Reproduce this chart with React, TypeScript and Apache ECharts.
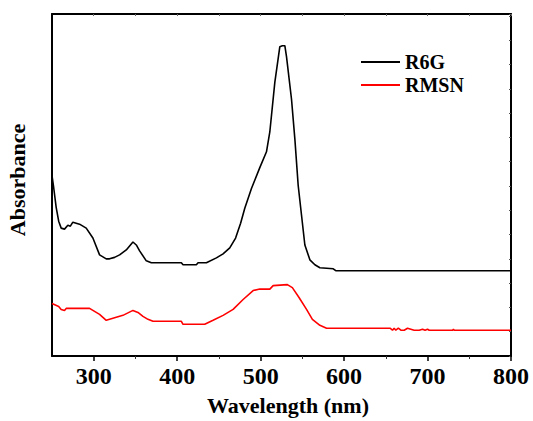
import React, { useEffect, useRef } from "react";
import * as echarts from "echarts";

const r6gWavelength = [250, 252, 255, 258, 261, 265, 269, 272, 275, 283, 291, 299, 307, 315, 319, 325, 331, 339, 347, 351, 355, 363, 369, 405, 407, 423, 425, 435, 447, 455, 463, 470, 476, 481, 489, 499, 507, 511, 517, 523, 526, 529, 531, 537, 541, 545, 549, 553, 559, 565, 571, 587, 590, 800];
const r6gAbsorbance = [1.82, 1.70, 1.50, 1.36, 1.29, 1.28, 1.32, 1.31, 1.35, 1.33, 1.29, 1.19, 1.02, 0.98, 0.98, 0.995, 1.02, 1.07, 1.15, 1.12, 1.06, 0.96, 0.94, 0.94, 0.92, 0.92, 0.94, 0.94, 0.99, 1.03, 1.09, 1.19, 1.34, 1.49, 1.69, 1.90, 2.06, 2.26, 2.76, 3.12, 3.13, 3.13, 3.02, 2.59, 2.19, 1.72, 1.42, 1.12, 0.97, 0.92, 0.89, 0.88, 0.86, 0.86];

const rmsnWavelength = [250, 258, 261, 265, 267, 295, 301, 307, 315, 323, 335, 347, 353, 359, 365, 371, 405, 407, 433, 443, 455, 467, 479, 491, 499, 511, 515, 532, 538, 546, 555, 562, 571, 579, 655, 658, 660, 662, 665, 668, 672, 676, 680, 684, 690, 694, 697, 700, 702, 730, 731, 732, 800];
const rmsnAbsorbance = [0.53, 0.50, 0.47, 0.46, 0.48, 0.48, 0.45, 0.42, 0.36, 0.38, 0.41, 0.46, 0.44, 0.40, 0.37, 0.35, 0.35, 0.32, 0.32, 0.36, 0.41, 0.47, 0.57, 0.66, 0.675, 0.675, 0.71, 0.72, 0.69, 0.59, 0.47, 0.37, 0.31, 0.28, 0.28, 0.26, 0.28, 0.26, 0.28, 0.26, 0.26, 0.28, 0.27, 0.26, 0.26, 0.27, 0.26, 0.27, 0.26, 0.26, 0.27, 0.26, 0.26];

const majorTicks = [300, 400, 500, 600, 700, 800];
const minorTicks = [350, 450, 550, 650, 750];
const seriesNames = ["R6G", "RMSN"];

const FONT = "'Liberation Serif', 'Times New Roman', serif";

export default function App() {
  const ref = useRef<HTMLDivElement>(null);
  useEffect(() => {
    if (!ref.current) return;
    const chart = echarts.init(ref.current, null, { renderer: "svg" });
    const toPairs = (xs: number[], ys: number[]) => xs.map((x, i) => [x, ys[i]]);
    chart.setOption({
      animation: false,
      backgroundColor: "#ffffff",
      grid: { left: 52, right: 22, top: 14, bottom: 62 },
      legend: {
        orient: "vertical",
        left: 356,
        top: 47,
        icon: "rect",
        itemWidth: 39,
        itemHeight: 2,
        itemGap: 3,
        textStyle: { fontFamily: FONT, fontWeight: "bold", fontSize: 20, color: "#000" },
        data: seriesNames,
      },
      xAxis: [
        {
          type: "value",
          min: 250,
          max: 800,
          position: "bottom",
          splitLine: { show: false },
          axisLine: { show: true, lineStyle: { color: "#000", width: 2 } },
          axisTick: { show: true, customValues: majorTicks, length: 5, inside: false, lineStyle: { color: "#000", width: 1.5 } },
          axisLabel: {
            customValues: majorTicks,
            margin: 8,
            fontFamily: FONT,
            fontWeight: "bold",
            fontSize: 24,
            color: "#000",
          },
          name: "Wavelength (nm)",
          nameLocation: "middle",
          nameGap: 38,
          nameTextStyle: { fontFamily: FONT, fontWeight: "bold", fontSize: 22, color: "#000", padding: [0, 0, 0, 13] },
        },
        {
          type: "value",
          min: 250,
          max: 800,
          position: "bottom",
          splitLine: { show: false },
          axisLine: { show: false },
          axisTick: { show: true, customValues: minorTicks, length: 3, lineStyle: { color: "#333", width: 1 } },
          axisLabel: { show: false },
        },
        {
          type: "value",
          min: 250,
          max: 800,
          position: "top",
          splitLine: { show: false },
          axisLine: { show: true, lineStyle: { color: "#000", width: 2 } },
          axisTick: { show: true, customValues: [...majorTicks, ...minorTicks], inside: true, length: 2, lineStyle: { color: "#666", width: 1 } },
          axisLabel: { show: false },
        },
      ],
      yAxis: [
        {
          type: "value",
          min: 0,
          max: 3.45,
          position: "left",
          splitLine: { show: false },
          axisLine: { show: true, lineStyle: { color: "#000", width: 2 } },
          axisTick: { show: false },
          axisLabel: { show: false },
        },
        {
          type: "value",
          min: 0,
          max: 3.45,
          interval: 0.245,
          position: "right",
          splitLine: { show: false },
          axisLine: { show: true, lineStyle: { color: "#000", width: 2 } },
          axisTick: { show: true, inside: true, length: 2, lineStyle: { color: "#555", width: 1 } },
          axisLabel: { show: false },
        },
      ],
      graphic: [
        {
          type: "text",
          x: 17,
          y: 180,
          rotation: Math.PI / 2,
          style: {
            text: "Absorbance",
            fontFamily: FONT,
            fontWeight: "bold",
            fontSize: 22,
            fill: "#000",
            align: "center",
            verticalAlign: "middle",
          },
        },
      ],
      series: [
        {
          name: seriesNames[0],
          type: "line",
          data: toPairs(r6gWavelength, r6gAbsorbance),
          symbol: "none",
          showSymbol: false,
          lineStyle: { color: "#000", width: 1.6 },
          itemStyle: { color: "#000" },
        },
        {
          name: seriesNames[1],
          type: "line",
          data: toPairs(rmsnWavelength, rmsnAbsorbance),
          symbol: "none",
          showSymbol: false,
          lineStyle: { color: "#ff0000", width: 1.6 },
          itemStyle: { color: "#ff0000" },
        },
      ],
    });
    return () => chart.dispose();
  }, []);
  return <div ref={ref} style={{ width: 533, height: 421, position: "absolute", left: 0, top: 0 }} />;
}
